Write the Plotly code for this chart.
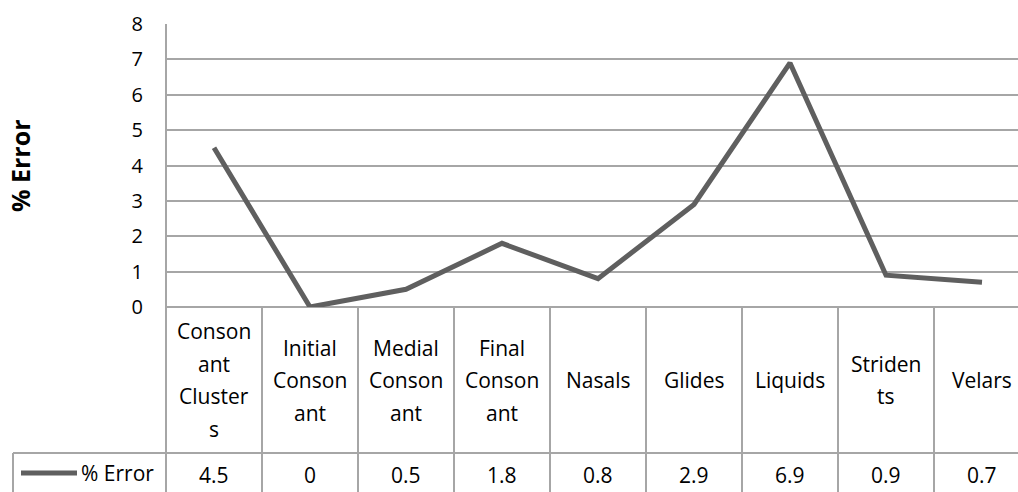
import plotly.graph_objects as go

# Phonological categories and their error percentages
categories = ["Consonant Clusters", "Initial Consonant", "Medial Consonant",
              "Final Consonant", "Nasals", "Glides", "Liquids", "Stridents", "Velars"]
category_lines = [["Conson", "ant", "Cluster", "s"], ["Initial", "Conson", "ant"],
                  ["Medial", "Conson", "ant"], ["Final", "Conson", "ant"], ["Nasals"],
                  ["Glides"], ["Liquids"], ["Striden", "ts"], ["Velars"]]
error_pct = [4.5, 0, 0.5, 1.8, 0.8, 2.9, 6.9, 0.9, 0.7]
y_ticks = [0, 1, 2, 3, 4, 5, 6, 7, 8]
series_name = "% Error"
y_title = "% Error"

# Layout geometry (pixels)
W, H = 1018, 492
PLOT_L, PLOT_T, PLOT_B = 166, 24, 307
COL_W = 96
HEADER_B = 453
TABLE_L = 13
X_MIN = -0.5
X_MAX = X_MIN + (W - PLOT_L) / COL_W

LINE_COLOR = "#5f5f5f"
GRID_COLOR = "#a6a6a6"
FONT = "Open Sans"
plot_h = PLOT_B - PLOT_T


def py(pix):
    """pixel row -> paper y"""
    return (PLOT_B - pix) / plot_h


def pxx(pix):
    """pixel column -> paper x"""
    return (pix - PLOT_L) / (W - PLOT_L)


def px(xval):
    """category position -> paper x"""
    return (xval - X_MIN) / (X_MAX - X_MIN)


fig = go.Figure()
fig.add_trace(go.Scatter(
    x=list(range(len(categories))), y=error_pct, mode="lines", name=series_name,
    line=dict(color=LINE_COLOR, width=5), hoverinfo="x+y", showlegend=False,
    cliponaxis=False,
))

shapes = []
# left border of plot + table
shapes.append(dict(type="line", xref="paper", yref="paper", x0=0, x1=0,
                   y0=1, y1=py(H), line=dict(color=GRID_COLOR, width=2)))
# column dividers in the data table
for i in range(len(categories) - 1):
    xv = px(i + 0.5)
    shapes.append(dict(type="line", xref="paper", yref="paper", x0=xv, x1=xv,
                       y0=0, y1=py(H), line=dict(color=GRID_COLOR, width=2)))
# row separator between header and values
shapes.append(dict(type="line", xref="paper", yref="paper",
                   x0=pxx(TABLE_L), x1=1,
                   y0=py(HEADER_B), y1=py(HEADER_B), line=dict(color=GRID_COLOR, width=2)))
# left border of the value row
shapes.append(dict(type="line", xref="paper", yref="paper",
                   x0=pxx(TABLE_L), x1=pxx(TABLE_L),
                   y0=py(HEADER_B), y1=py(H), line=dict(color=GRID_COLOR, width=2)))
# legend key line in the table
shapes.append(dict(type="line", xref="paper", yref="paper",
                   x0=pxx(21), x1=pxx(77),
                   y0=py(473), y1=py(473), line=dict(color=LINE_COLOR, width=5)))

annotations = []
LINE_GAP = 32.5
header_mid = (PLOT_B + HEADER_B) / 2
for i, lines in enumerate(category_lines):
    n = len(lines)
    for k, txt in enumerate(lines):
        yc = header_mid + (k - (n - 1) / 2) * LINE_GAP
        annotations.append(dict(x=i, xref="x", y=py(yc), yref="paper", text=txt,
                                showarrow=False, xanchor="center", yanchor="middle",
                                font=dict(family=FONT, size=21, color="black")))
for i, v in enumerate(error_pct):
    annotations.append(dict(x=i, xref="x", y=py(475), yref="paper", text=f"{v:g}",
                            showarrow=False, xanchor="center", yanchor="middle",
                            font=dict(family=FONT, size=21, color="black")))
annotations.append(dict(x=pxx(79), xref="paper", y=py(473), yref="paper",
                        text=series_name, showarrow=False, xanchor="left", yanchor="middle",
                        font=dict(family=FONT, size=21, color="black")))
annotations.append(dict(x=pxx(20), xref="paper", y=py(166), yref="paper",
                        text=f"<b>{y_title}</b>", showarrow=False, textangle=-90,
                        xanchor="center", yanchor="middle",
                        font=dict(family=FONT, size=25, color="black")))

fig.update_layout(
    width=W, height=H,
    margin=dict(l=PLOT_L, r=0, t=PLOT_T, b=H - PLOT_B, pad=0),
    paper_bgcolor="white", plot_bgcolor="white",
    showlegend=False,
    xaxis=dict(range=[X_MIN, X_MAX], showgrid=False, zeroline=False, showline=False,
               showticklabels=False, ticks="", fixedrange=True),
    yaxis=dict(range=[0, 8], tickvals=y_ticks, ticktext=[str(t) for t in y_ticks],
               showgrid=True, gridcolor=GRID_COLOR, gridwidth=2,
               zeroline=True, zerolinecolor=GRID_COLOR, zerolinewidth=2,
               showline=False, ticks="", ticklabelstandoff=22,
               tickfont=dict(family=FONT, size=20, color="black"), fixedrange=True),
    shapes=shapes,
    annotations=annotations,
)

fig.write_html("out.html")
